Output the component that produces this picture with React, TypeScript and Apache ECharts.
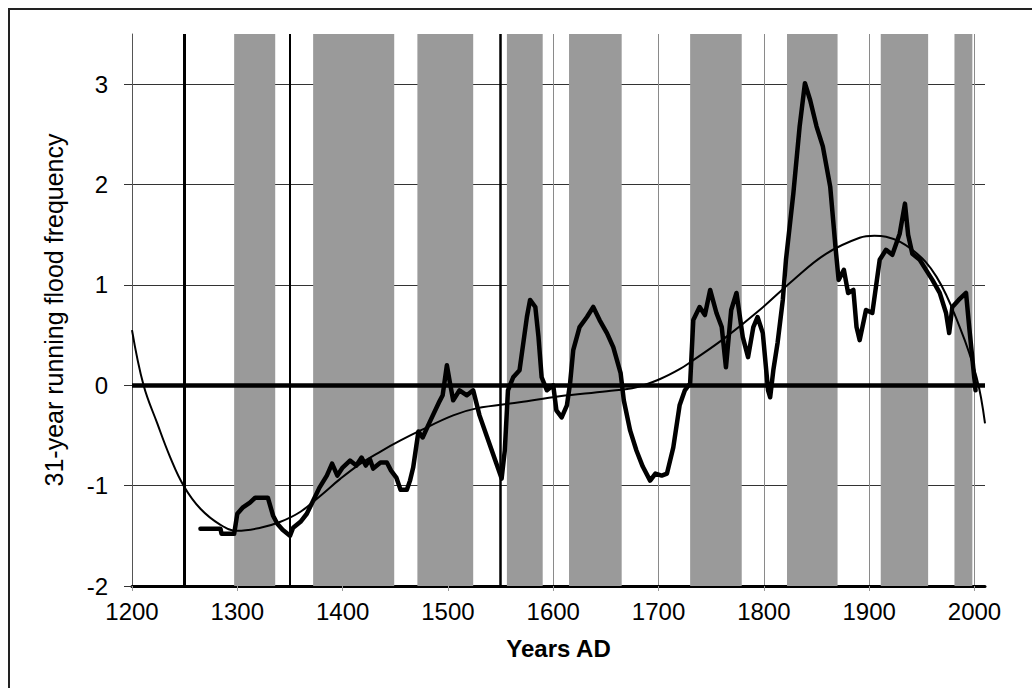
import React, { useEffect, useRef } from "react";
import * as echarts from "echarts";

// 31-year running flood frequency (thick line)
const floodYears = [
  1265, 1284, 1285, 1297, 1300, 1305, 1312, 1317, 1329, 1334, 1338, 1343, 1350, 1353, 1360, 1366,
  1372, 1378, 1385, 1390, 1395, 1400, 1407, 1413, 1418, 1422, 1426, 1429, 1436, 1442, 1446, 1451,
  1455, 1461, 1464, 1467, 1472, 1476, 1483, 1492, 1495, 1499, 1502, 1505, 1511, 1518, 1524, 1530,
  1537, 1546, 1551, 1554, 1557, 1562, 1568, 1575, 1578, 1583, 1586, 1589, 1594, 1600, 1603, 1608,
  1613, 1616, 1619, 1625, 1632, 1638, 1644, 1651, 1657, 1664, 1667, 1673, 1679, 1685, 1692, 1697,
  1703, 1708, 1714, 1720, 1725, 1730, 1733, 1739, 1744, 1749, 1755, 1760, 1764, 1769, 1774, 1780,
  1785, 1790, 1794, 1799, 1804, 1806, 1809, 1813, 1818, 1821, 1828, 1834, 1839, 1844, 1850, 1856,
  1863, 1868, 1871, 1876, 1880, 1885, 1888, 1891, 1897, 1903, 1910, 1916, 1922, 1929, 1934, 1937,
  1941, 1948, 1954, 1960, 1967, 1973, 1976, 1979, 1985, 1992, 1995, 2001,
];
const floodValues = [
  -1.43, -1.43, -1.48, -1.48, -1.28, -1.22, -1.17, -1.12, -1.12, -1.3, -1.38, -1.44, -1.5, -1.42, -1.36, -1.28,
  -1.15, -1.02, -0.9, -0.78, -0.9, -0.82, -0.75, -0.8, -0.72, -0.8, -0.74, -0.83, -0.77, -0.77, -0.85, -0.92,
  -1.04, -1.04, -0.95, -0.82, -0.46, -0.52, -0.36, -0.16, -0.1, 0.2, 0.02, -0.15, -0.05, -0.1, -0.05, -0.3,
  -0.51, -0.78, -0.93, -0.65, -0.05, 0.08, 0.15, 0.68, 0.85, 0.78, 0.48, 0.08, -0.05, 0.0, -0.25, -0.32,
  -0.2, 0.02, 0.35, 0.58, 0.68, 0.78, 0.65, 0.52, 0.38, 0.12, -0.15, -0.45, -0.65, -0.81, -0.95, -0.88,
  -0.9, -0.88, -0.62, -0.2, -0.05, 0.02, 0.65, 0.78, 0.7, 0.95, 0.72, 0.58, 0.18, 0.75, 0.92, 0.48,
  0.28, 0.58, 0.68, 0.52, -0.05, -0.12, 0.15, 0.42, 0.85, 1.25, 1.91, 2.58, 3.01, 2.84, 2.58, 2.38,
  1.98, 1.38, 1.05, 1.15, 0.92, 0.95, 0.58, 0.45, 0.75, 0.72, 1.25, 1.35, 1.3, 1.51, 1.81, 1.5,
  1.31, 1.25, 1.15, 1.05, 0.92, 0.72, 0.52, 0.78, 0.85, 0.92, 0.58, -0.05,
];

// Long-term trend (thin line)
const trendYears = [
  1200, 1211, 1224, 1236, 1249, 1265, 1284, 1300, 1322, 1341, 1360, 1379, 1398, 1417, 1436, 1455,
  1474, 1505, 1527, 1568, 1606, 1651, 1679, 1701, 1720, 1733, 1764, 1796, 1828, 1859, 1891, 1905,
  1916, 1941, 1964, 1986, 2002, 2010,
];
const trendValues = [
  0.55, 0.0, -0.38, -0.71, -1.0, -1.23, -1.39, -1.45, -1.42, -1.36, -1.26, -1.1, -0.93, -0.78, -0.66, -0.55,
  -0.45, -0.3, -0.23, -0.17, -0.11, -0.06, -0.02, 0.06, 0.16, 0.25, 0.48, 0.75, 1.05, 1.31, 1.47, 1.49,
  1.48, 1.35, 1.08, 0.58, 0.08, -0.38,
];

// Shaded periods (start, end years)
const bandStarts = [1297, 1372, 1471, 1556, 1615, 1730, 1822, 1911, 1981];
const bandEnds = [1336, 1449, 1524, 1590, 1665, 1779, 1870, 1956, 1998];

// Extra vertical reference lines
const refLineYears = [1250, 1350, 1550];
const refLineWidths = [3, 2, 2.5];

const xTicks = [1200, 1300, 1400, 1500, 1600, 1700, 1800, 1900, 2000];

const FONT = "'Liberation Sans', Arial, Helvetica, sans-serif";

export default function App() {
  const ref = useRef<HTMLDivElement>(null);

  useEffect(() => {
    document.body.style.margin = "0";
    const chart = echarts.init(ref.current!, null, { renderer: "svg" });

    const floodData = floodYears.map((y, i) => [y, floodValues[i]]);
    const trendData = trendYears.map((y, i) => [y, trendValues[i]]);
    const bands = bandStarts.map((s, i) => [{ xAxis: s }, { xAxis: bandEnds[i] }]);

    chart.setOption({
      animation: false,
      backgroundColor: "#ffffff",
      grid: {
        left: 132,
        right: 47,
        top: 34,
        bottom: 102,
        containLabel: false,
        outerBoundsMode: "none",
      },
      xAxis: {
        type: "value",
        min: 1200,
        max: 2010,
        interval: 100,
        name: "Years AD",
        nameLocation: "middle",
        nameGap: 50,
        nameTextStyle: { fontFamily: FONT, fontSize: 24, fontWeight: "bold", color: "#000" },
        axisLine: { show: true, onZero: false, lineStyle: { color: "#000", width: 3 } },
        axisTick: { show: true, length: 5, lineStyle: { color: "#999" } },
        axisLabel: {
          margin: 13,
          fontFamily: FONT,
          fontSize: 24,
          color: "#000",
          showMaxLabel: false,
          formatter: (v: number) => (xTicks.includes(v) ? String(v) : ""),
        },
        splitLine: {
          show: true,
          showMaxLine: false,
          lineStyle: { color: "#8a8a8a", width: 1 },
        },
      },
      yAxis: {
        type: "value",
        min: -2,
        max: 3.5,
        interval: 1,
        name: "31-year running flood frequency",
        nameLocation: "middle",
        nameRotate: 90,
        nameGap: 66,
        nameTextStyle: { fontFamily: FONT, fontSize: 25, color: "#000" },
        axisLine: { show: true, lineStyle: { color: "#555", width: 1 } },
        axisTick: { show: true, length: 8, lineStyle: { color: "#333" } },
        axisLabel: {
          margin: 24,
          fontFamily: FONT,
          fontSize: 24,
          color: "#000",
          showMaxLabel: false,
          formatter: (v: number) => (Number.isInteger(v) ? String(v) : ""),
        },
        splitLine: {
          show: true,
          showMaxLine: false,
          showMinLine: false,
          lineStyle: { color: "#333", width: 1 },
        },
      },
      series: [
        {
          type: "line",
          name: "bands",
          data: [],
          silent: true,
          markArea: {
            silent: true,
            itemStyle: { color: "#9a9a9a", opacity: 1 },
            data: bands,
          },
        },
        {
          type: "line",
          name: "trend",
          data: trendData,
          smooth: 0.4,
          showSymbol: false,
          lineStyle: { color: "#000", width: 2 },
          z: 4,
        },
        {
          type: "line",
          name: "flood",
          data: floodData,
          showSymbol: false,
          lineStyle: { color: "#000", width: 4.5, join: "round", cap: "round" },
          z: 5,
          markLine: {
            silent: true,
            symbol: "none",
            label: { show: false },
            data: [
              { yAxis: 0, lineStyle: { color: "#000", width: 4.5, type: "solid" } },
              ...refLineYears.map((y, i) => ({
                xAxis: y,
                lineStyle: { color: "#000", width: refLineWidths[i], type: "solid" },
              })),
            ],
          },
        },
      ],
      graphic: [
        {
          type: "line",
          shape: { x1: 8, y1: 9, x2: 1032, y2: 9 },
          style: { stroke: "#222", lineWidth: 2 },
        },
        {
          type: "line",
          shape: { x1: 9, y1: 9, x2: 9, y2: 688 },
          style: { stroke: "#222", lineWidth: 2 },
        },
      ],
    });

    return () => chart.dispose();
  }, []);

  return <div ref={ref} style={{ width: 1032, height: 688 }} />;
}
